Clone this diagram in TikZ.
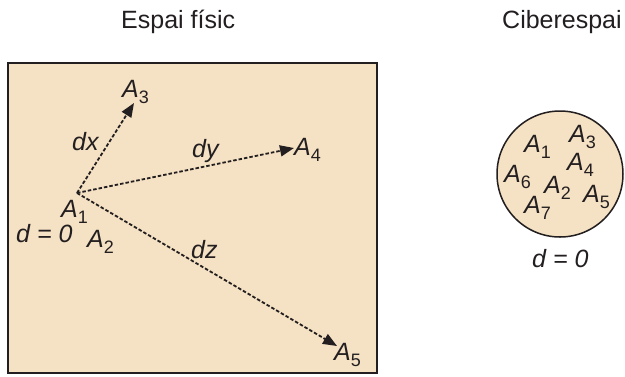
\documentclass[tikz,border=0pt]{standalone}
\usepackage{fontspec}
\setmainfont{Liberation Sans}
\usetikzlibrary{arrows.meta}
\definecolor{paper}{RGB}{245,225,195}
\definecolor{ink}{RGB}{35,31,32}
\newcommand\Alab[1]{\textit{A}\raisebox{-0.26em}{\fontsize{18}{18}\selectfont #1}}
\tikzset{
  lab/.style={anchor=base west, inner sep=0pt, font=\fontsize{25}{29}\selectfont, text=ink},
  ttl/.style={anchor=base west, inner sep=0pt, font=\fontsize{25}{29}\selectfont, text=ink},
  darrow/.style={draw=ink, line width=1.8pt, dash pattern=on 3.5pt off 2pt, -{Triangle[length=14pt,width=11pt]}},
}
\begin{document}
\begin{tikzpicture}[x=1pt,y=-1pt]
\useasboundingbox (0,0) rectangle (625,376);
% titles
\node[ttl] (t1) at (121,28) {Espai físic};
\node[ttl] (t2) at (502,28) {Ciberespai};
% physical space box
\draw[ink, fill=paper, line width=2pt] (8,63) rectangle (377,373);
\coordinate (o) at (77,193);
\coordinate (e3) at (134,103);
\coordinate (e4) at (294,148);
\coordinate (e5) at (337,346);
\draw[darrow] (o) -- (e3);
\draw[darrow] (o) -- (e4);
\draw[darrow] (o) -- (e5);
\node[lab] (a3) at (122,97) {\Alab{3}};
\node[lab] (a4) at (294,155) {\Alab{4}};
\node[lab] (a1) at (61,217) {\Alab{1}};
\node[lab] (a2) at (87,247) {\Alab{2}};
\node[lab] (a5) at (334,360) {\Alab{5}};
\node[lab] (dx) at (72,150) {\textit{dx}};
\node[lab] (dy) at (192,157) {\textit{dy}};
\node[lab] (dz) at (191,258) {\textit{dz}};
\node[lab] (d0) at (16,242) {\textit{d = 0}};
% cyberspace
\draw[ink, fill=paper, line width=1.5pt] (560,174) circle (63);
\node[lab] (c1) at (524,152) {\Alab{1}};
\node[lab] (c3) at (569,142) {\Alab{3}};
\node[lab] (c4) at (567,170) {\Alab{4}};
\node[lab] (c6) at (504,182) {\Alab{6}};
\node[lab] (c2) at (544,193) {\Alab{2}};
\node[lab] (c5) at (583,202) {\Alab{5}};
\node[lab] (c7) at (524,213) {\Alab{7}};
\node[lab] (cd) at (532,267) {\textit{d = 0}};
\end{tikzpicture}
\end{document}
